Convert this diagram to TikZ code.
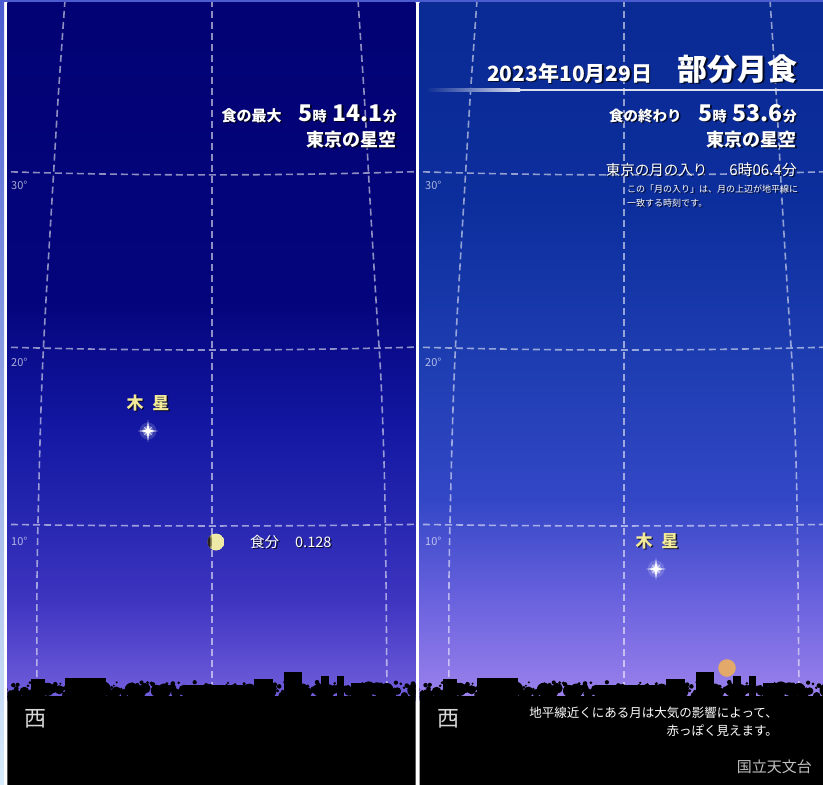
\documentclass[tikz,border=0pt]{standalone}
\usepackage{fontspec}
\setmainfont{Noto Sans CJK JP}

% sky colours, top to horizon
\definecolor{lskyA}{HTML}{020274}
\definecolor{lskyB}{HTML}{04057C}
\definecolor{lskyC}{HTML}{1216A0}
\definecolor{lskyD}{HTML}{2828B2}
\definecolor{lskyE}{HTML}{3E34C0}
\definecolor{lskyF}{HTML}{7260DC}
\definecolor{rskyA}{HTML}{0A2A94}
\definecolor{rskyB}{HTML}{0C2E9C}
\definecolor{rskyC}{HTML}{1C3CB0}
\definecolor{rskyD}{HTML}{3347C6}
\definecolor{rskyE}{HTML}{6A62DE}
\definecolor{rskyF}{HTML}{9C82EC}
\definecolor{stripblue}{HTML}{4A5CD0}
\definecolor{stripmid}{HTML}{98B0E8}
\definecolor{striplow}{HTML}{D8ECFA}
\definecolor{jupyellow}{HTML}{F2EA98}
\definecolor{moonyellow}{HTML}{EEE9A6}
\definecolor{moonred}{HTML}{E2A96A}
\definecolor{umbra}{HTML}{2A2218}
\definecolor{westgray}{HTML}{D8D8D8}
\definecolor{logogray}{HTML}{C0C0C0}

% path box maps onto 25bp..75bp; y runs 0 (top) .. 700 (horizon)
\pgfdeclareverticalshading{leftsky}{100bp}{color(0bp)=(lskyF); color(25bp)=(lskyF);
  color(32.14bp)=(lskyE); color(37.5bp)=(lskyD); color(45bp)=(lskyC);
  color(53.57bp)=(lskyB); color(75bp)=(lskyA); color(100bp)=(lskyA)}
\pgfdeclareverticalshading{rightsky}{100bp}{color(0bp)=(rskyF); color(25bp)=(rskyF);
  color(32.14bp)=(rskyE); color(39.29bp)=(rskyD); color(50bp)=(rskyC);
  color(60.71bp)=(rskyB); color(75bp)=(rskyA); color(100bp)=(rskyA)}

\newcommand{\fsz}[1]{\fontsize{#1}{#1}\selectfont}
% text with a dark drop shadow: style, name, position, content
\newcommand{\shtext}[4]{%
  \node[#1, text=black, opacity=.75] at ([shift={(1.3,1.3)}]#3) {#4};
  \node[#1] (#2) at (#3) {#4};}

% altitude grid of one panel (left panel coordinates)
\newcommand{\skygrid}{%
  \draw[gridline] plot[smooth] coordinates {(65,0) (58,100) (52,200) (46,300) (42,380) (39,480) (37,580) (37,700)};
  \draw[gridline] (212,0) -- (212,700);
  \draw[gridline] plot[smooth] coordinates {(358,0) (364.5,100) (370,200) (376,300) (381,380) (384.5,480) (386,580) (387,700)};
  \draw[gridline] (0,171.5) .. controls (140,176) and (280,176) .. (420,171.5);
  \draw[gridline] (0,347) .. controls (140,351) and (280,351) .. (420,347);
  \draw[gridline] (0,524.3) .. controls (140,526.5) and (280,526.5) .. (420,524.3);}

% horizon: tree canopy, buildings and ground (left panel coordinates)
\newcommand{\horizonline}{%
  \pgfmathsetseed{42}%
  \fill[black] (0,696) rectangle (420,785);
  \foreach \i in {0,...,70}{%
    \pgfmathsetmacro{\tx}{4+6*\i+3*rand}%
    \pgfmathsetmacro{\ty}{692+4*rand}%
    \pgfmathsetmacro{\tr}{3+4*rnd}%
    \fill[black] (\tx,\ty) circle (\tr);}
  \foreach \i in {0,...,140}{%
    \pgfmathsetmacro{\tx}{4+3*\i+1.5*rand}%
    \pgfmathsetmacro{\ty}{687+5*rand}%
    \pgfmathsetmacro{\tr}{0.8+1.6*rnd}%
    \fill[black] (\tx,\ty) circle (\tr);}
  \fill[black] (31,679) rectangle (45,700);
  \fill[black] (65,678) rectangle (106,700);
  \fill[black] (183,685) rectangle (247,700);
  \fill[black] (254,679) rectangle (273,700);
  \fill[black] (284,672) rectangle (302,700);
  \fill[black] (321,676) rectangle (329,700);
  \fill[black] (337,676) rectangle (344,700);
  \fill[black] (351,683) rectangle (369,700);}

\tikzset{
  gridline/.style={draw=white, draw opacity=.55, line width=1.6pt, dash pattern=on 7pt off 4pt},
  txt/.style={inner sep=0pt, text=white},
  yel/.style={inner sep=0pt, text=jupyellow},
  deg/.style={inner sep=0pt, text=white, opacity=.65, anchor=base west, font=\fsz{11}},
  jupiter/.pic={
    \fill[white, opacity=.15] (0,0) circle (8.5);
    \fill[white, opacity=.35] (0,0) circle (5.5);
    \fill[white] (-10,0) -- (0,-1.3) -- (10,0) -- (0,1.3) -- cycle;
    \fill[white] (0,-11) -- (1.3,0) -- (0,11) -- (-1.3,0) -- cycle;
    \fill[white, opacity=.6] (-4.5,-4.5) -- (0.7,-0.7) -- (4.5,4.5) -- (-0.7,0.7) -- cycle;
    \fill[white, opacity=.6] (4.5,-4.5) -- (0.7,0.7) -- (-4.5,4.5) -- (-0.7,-0.7) -- cycle;
    \fill[white] (0,0) circle (2.9);}
}

\begin{document}
\begin{tikzpicture}[x=1pt, y=-1pt]
\useasboundingbox (0,0) rectangle (823,785);

% frame strips
\fill[white] (0,0) rectangle (823,785);
\shade[top color=stripblue, middle color=stripmid, bottom color=striplow] (0,0) rectangle (4,785);
\fill[stripblue] (0,0) rectangle (823,2.2);

% ---------- left panel: maximum eclipse ----------
\begin{scope}
  \clip (7.3,2.2) rectangle (415.5,785);
  \shade[shading=leftsky] (0,0) rectangle (420,700);
  \skygrid
  \node[deg] (d30l) at (11,189) {30°};
  \node[deg] (d20l) at (11,366) {20°};
  \node[deg] (d10l) at (11,545) {10°};
  % eclipsed moon
  \begin{scope}
    \clip (216,542) circle (8.5);
    \fill[moonyellow] (216,542) circle (8.5);
    \fill[umbra, opacity=.45] (180,542) circle (32);
    \fill[umbra] (180,542) circle (30.5);
  \end{scope}
  \pic at (148,431) {jupiter};
  \horizonline
\end{scope}

\shtext{txt, anchor=base east}{maxlbl}{397,121}{\bfseries\fsz{15}食の最大\hspace{17pt}\fsz{23}5\fsz{14}時\hspace{6pt}\fsz{23}14.1\fsz{14}分}
\shtext{txt, anchor=base east}{placel}{397,146}{\bfseries\fsz{18}東京の星空}
\shtext{yel, anchor=base}{jupl}{148,409}{\bfseries\fsz{17}木\hspace{9pt}星}
\shtext{txt, anchor=base west}{mag}{250,547}{\fsz{14.5}食分\hspace{16pt}0.128}
\node[inner sep=0pt, anchor=base west, text=westgray] (westl) at (24,726) {\fsz{22}西};

% ---------- right panel: end of eclipse ----------
\begin{scope}
  \clip (419.5,2.2) rectangle (823,785);
  \shade[shading=rightsky] (419.5,0) rectangle (823,700);
  \begin{scope}[shift={(412,0)}]
    \skygrid
  \end{scope}
  \node[deg] (d30r) at (425,189) {30°};
  \node[deg] (d20r) at (425,366) {20°};
  \node[deg] (d10r) at (425,545) {10°};
  % title rule
  \shade[left color=rskyA, right color=white!85!rskyA] (425,88.6) rectangle (520,91.2);
  \fill[white!85!rskyA] (520,88.6) rectangle (823,91.2);
  % reddened moon near the horizon
  \fill[moonred] (727,668) circle (8.8);
  \pic at (656,569) {jupiter};
  \begin{scope}[shift={(412.2,0)}]
    \horizonline
  \end{scope}
\end{scope}

\shtext{txt, anchor=base west}{date}{487,81}{\bfseries\fsz{21}2023年10月29日}
\shtext{txt, anchor=base east}{title}{798,80}{\bfseries\fsz{30}部分月食}
\shtext{txt, anchor=base east}{endlbl}{797,121}{\bfseries\fsz{14.5}食の終わり\hspace{17pt}\fsz{23}5\fsz{14}時\hspace{6pt}\fsz{23}53.6\fsz{14}分}
\shtext{txt, anchor=base east}{placer}{797,146}{\bfseries\fsz{18}東京の星空}
\shtext{txt, anchor=base east}{moonset}{797,175}{\fsz{14.5}東京の月の入り\hspace{22pt}\fsz{15}6時06.4分}
\shtext{txt, anchor=base west}{note1}{627,192}{\fsz{9}この「月の入り」は、月の上辺が地平線に}
\shtext{txt, anchor=base west}{note2}{627,206}{\fsz{9}一致する時刻です。}
\shtext{yel, anchor=base}{jupr}{657,547}{\bfseries\fsz{17}木\hspace{9pt}星}
\node[inner sep=0pt, anchor=base west, text=westgray] (westr) at (437,726) {\fsz{22}西};
\node[txt, anchor=base east] (red1) at (778,717) {\fsz{12.5}地平線近くにある月は大気の影響によって、};
\node[txt, anchor=base east] (red2) at (778,735) {\fsz{12.5}赤っぽく見えます。};
\node[inner sep=0pt, anchor=base east, text=logogray] (naoj) at (812,772) {\fsz{15}国立天文台};
\end{tikzpicture}
\end{document}
